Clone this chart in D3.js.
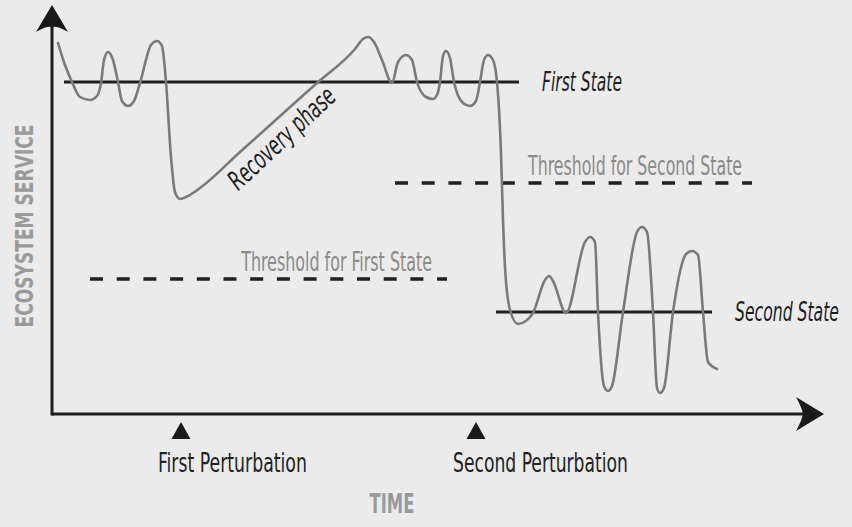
<!DOCTYPE html>
<html><head><meta charset="utf-8">
<script src="https://cdn.jsdelivr.net/npm/d3@7"></script>
<style>body{margin:0;background:#ebebeb}svg{display:block}</style>
</head><body><svg id="c" width="852" height="527"></svg>
<script>
// ---- data (time units / ecosystem-service units) ----
const curveTime = [1.5, 3.25, 5, 7, 9.5, 11.25, 12.25, 13, 14, 15.25, 16.5, 17.5, 19, 20.5, 22, 24.75, 26.25, 27.5,
  28.5, 29.75, 30.75, 32, 33.75, 37, 47, 66.25, 75.75, 77.75, 79, 80.5, 82.5, 85, 86.5, 88.5, 90, 91.25,
  93.5, 95.25, 96.25, 97, 97.75, 98.5, 99.5, 100.5, 102.75, 104.5, 106, 107, 108, 109, 110.25, 111.25,
  112.25, 112.75, 113.25, 114.5, 116.5, 118.5, 120.25, 123.25, 124.25, 125.25, 128.5, 133.25, 134.5, 135.75,
  136.5, 138, 139, 140, 142.75, 146.25, 147.5, 148.75, 150.25, 151.25, 152, 153, 155.25, 158.5, 160, 161.5,
  162.75, 164, 166.25];
const curveService = [92.75, 87.25, 83, 79.25, 78.5, 79.5, 82.75, 88.5, 90.5, 88.5, 83, 78.25, 77, 78.25, 82.75, 92.25, 93.25, 92,
  83, 64.25, 55.5, 53.75, 54.375, 56.5, 65.5, 82.75, 91.25, 93.75, 94.25, 93, 88.5, 82.75, 88, 89.75, 88.5, 83,
  79.25, 78.75, 79.75, 83, 89.5, 90.75, 89, 83, 77.75, 77, 78.25, 83, 88.5, 89.75, 88.5, 83,
  65.25, 48.5, 36.75, 26, 22.5, 23.25, 25.25, 33.5, 34.5, 33.25, 25.25, 43, 44.25, 43,
  25.5, 7, 5.75, 7, 25.5, 45.5, 46.75, 45.5, 25.5, 6.5, 5.25, 6.5, 25.5, 40, 40.75, 39.75,
  25.5, 13, 11.25];
const stateNames = ["First State", "Second State"];
const stateStart = [3, 111];
const stateEnd = [116.75, 165];
const stateLevel = [83, 25.5];
const thresholdNames = ["Threshold for Second State", "Threshold for First State"];
const thresholdStart = [85.75, 9.5];
const thresholdEnd = [175, 98.75];
const thresholdLevel = [57.75, 33.75];
const perturbationNames = ["First Perturbation", "Second Perturbation"];
const perturbationTime = [32.25, 106];
const recoveryLabel = "Recovery phase";
const xTitle = "TIME";
const yTitle = "ECOSYSTEM SERVICE";

// ---- layout ----
const FONT = "'Liberation Sans Narrow','DejaVu Sans Condensed','Open Sans',sans-serif";
const svg = d3.select("#c");
svg.append("rect").attr("width", 852).attr("height", 527).attr("fill", "#ebebeb");
const x = d3.scaleLinear().domain([0, 190]).range([52, 812]);
const y = d3.scaleLinear().domain([0, 100]).range([414, 14]);

// text helper: condensed look via horizontal scaling to a target width
function addText(str, o) {
  const g = svg.append("g").attr("transform", `translate(${o.x},${o.y})` + (o.rotate ? ` rotate(${o.rotate})` : ""));
  const t = g.append("text").attr("text-anchor", o.anchor || "start")
    .attr("font-family", FONT).attr("font-size", o.size)
    .attr("font-weight", o.weight || "normal").attr("font-style", o.style || "normal")
    .attr("fill", o.fill).text(str);
  const w = t.node().getComputedTextLength();
  if (w > 0) t.attr("transform", `scale(${o.width / w},1)`);
  return t;
}

// axes
svg.append("line").attr("x1", x(0)).attr("x2", x(189)).attr("y1", y(0)).attr("y2", y(0))
  .attr("stroke", "#1f1f1f").attr("stroke-width", 3);
svg.append("line").attr("x1", x(0)).attr("x2", x(0)).attr("y1", y(0) + 1.5).attr("y2", y(100))
  .attr("stroke", "#1f1f1f").attr("stroke-width", 3);
// arrow heads
svg.append("path").attr("transform", `translate(${x(193)},${y(0)})`)
  .attr("d", "M0,0 L-28,-17 Q-22,-6 -21,0 Q-22,6 -28,17 Z").attr("fill", "#1a1a1a");
svg.append("path").attr("transform", `translate(${x(0)},${y(102.25)})`)
  .attr("d", "M0,0 L-16,27 Q-6,21 0,22 Q6,21 16,27 Z").attr("fill", "#1a1a1a");

// thresholds
thresholdNames.forEach((n, i) => {
  svg.append("line").attr("x1", x(thresholdStart[i])).attr("x2", x(thresholdEnd[i]))
    .attr("y1", y(thresholdLevel[i])).attr("y2", y(thresholdLevel[i]))
    .attr("stroke", "#1f1f1f").attr("stroke-width", 3.5).attr("stroke-dasharray", "13,13.7");
});

// state lines
stateNames.forEach((n, i) => {
  svg.append("line").attr("x1", x(stateStart[i])).attr("x2", x(stateEnd[i]))
    .attr("y1", y(stateLevel[i])).attr("y2", y(stateLevel[i]))
    .attr("stroke", "#1f1f1f").attr("stroke-width", 3);
});

// curve
const pts = curveTime.map((t, i) => [t, curveService[i]]);
svg.append("path").datum(pts)
  .attr("d", d3.line().x(d => x(d[0])).y(d => y(d[1])).curve(d3.curveMonotoneX))
  .attr("fill", "none").attr("stroke", "#7a7a7a").attr("stroke-width", 2.6)
  .attr("stroke-linejoin", "round").attr("stroke-linecap", "round");

// threshold labels
const thrW = [214, 191];
const thrOff = [10, 15];
thresholdNames.forEach((n, i) => {
  addText(n, { x: x(thresholdEnd[i]) - thrOff[i], y: y(thresholdLevel[i]) - 8, anchor: "end",
    size: 26, fill: "#8a8a8a", width: thrW[i] });
});

// state labels
const stW = [80, 104];
const stOff = [23, 23];
stateNames.forEach((n, i) => {
  addText(n, { x: x(stateEnd[i]) + stOff[i], y: y(stateLevel[i]) + 9, size: 26, style: "italic",
    fill: "#1e1e1e", width: stW[i] });
});

// recovery label
addText(recoveryLabel, { x: 288, y: 145, rotate: -43, anchor: "middle", size: 27, style: "italic",
  fill: "#1e1e1e", width: 136 });

// perturbations
const pW = [149, 175];
perturbationNames.forEach((n, i) => {
  const px = x(perturbationTime[i]);
  svg.append("path").attr("transform", `translate(${px},${y(0) + 8})`)
    .attr("d", "M0,0 L9.5,17 L-9.5,17 Z").attr("fill", "#1a1a1a");
  addText(n, { x: px - 23, y: 472, size: 27, fill: "#222", width: pW[i] });
});

// axis titles
addText(xTitle, { x: 392, y: 513, anchor: "middle", size: 26, weight: "bold", fill: "#9a9a9a", width: 45 });
addText(yTitle, { x: 33, y: 226, rotate: -90, anchor: "middle", size: 25, weight: "bold", fill: "#9a9a9a", width: 203 });
</script></body></html>
